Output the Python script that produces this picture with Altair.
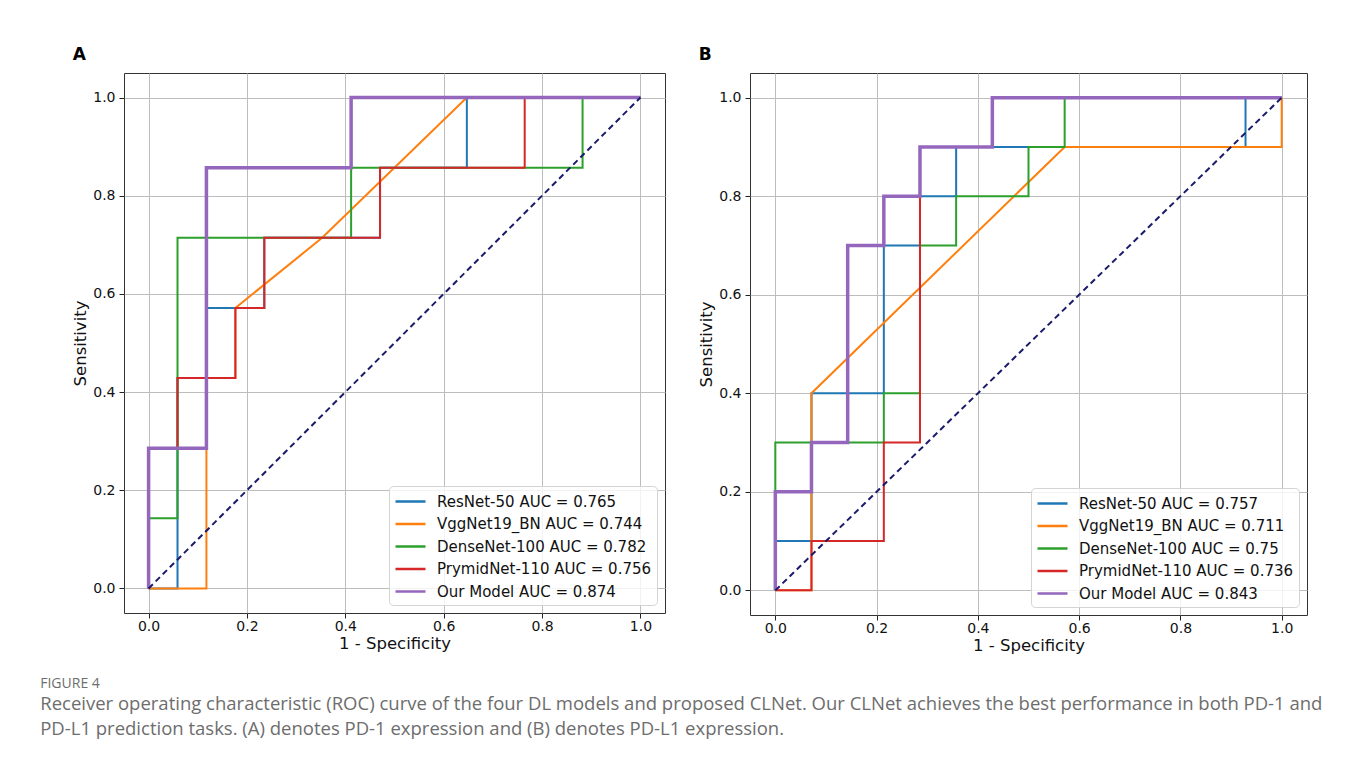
import altair as alt
import pandas as pd

# ---------------- data ----------------
models = ["ResNet-50", "VggNet19_BN", "DenseNet-100", "PrymidNet-110", "Our Model"]
auc_a = ["0.765", "0.744", "0.782", "0.756", "0.874"]
auc_b = ["0.757", "0.711", "0.75", "0.736", "0.843"]
colors = ["#1f77b4", "#ff7f0e", "#2ca02c", "#d62728", "#9467bd"]
ticks = [0.0, 0.2, 0.4, 0.6, 0.8, 1.0]

# Panel A (PD-1)
a_fpr = [
    [0, 0.0588, 0.0588, 0.1176, 0.1176, 0.2353, 0.2353, 0.4706, 0.4706, 0.6471, 0.6471, 1.0],
    [0, 0.1176, 0.1176, 0.1765, 0.1765, 0.3529, 0.6471, 1.0],
    [0, 0, 0.0588, 0.0588, 0.4118, 0.4118, 0.8824, 0.8824, 1.0],
    [0, 0, 0.0588, 0.0588, 0.1765, 0.1765, 0.2353, 0.2353, 0.4706, 0.4706, 0.7647, 0.7647, 1.0],
    [0, 0, 0.1176, 0.1176, 0.4118, 0.4118, 1.0],
]
a_tpr = [
    [0, 0, 0.4286, 0.4286, 0.5714, 0.5714, 0.7143, 0.7143, 0.8571, 0.8571, 1.0, 1.0],
    [0, 0, 0.4286, 0.4286, 0.5714, 0.7143, 1.0, 1.0],
    [0, 0.1429, 0.1429, 0.7143, 0.7143, 0.8571, 0.8571, 1.0, 1.0],
    [0, 0.2857, 0.2857, 0.4286, 0.4286, 0.5714, 0.5714, 0.7143, 0.7143, 0.8571, 0.8571, 1.0, 1.0],
    [0, 0.2857, 0.2857, 0.8571, 0.8571, 1.0, 1.0],
]

# Panel B (PD-L1)
b_fpr = [
    [0, 0, 0.0714, 0.0714, 0.2143, 0.2143, 0.2857, 0.2857, 0.3571, 0.3571, 0.9286, 0.9286, 1.0],
    [0, 0.0714, 0.0714, 0.5714, 1.0, 1.0],
    [0, 0, 0.2143, 0.2143, 0.2857, 0.2857, 0.3571, 0.3571, 0.5, 0.5, 0.5714, 0.5714, 1.0],
    [0, 0.0714, 0.0714, 0.2143, 0.2143, 0.2857, 0.2857, 0.4286, 0.4286, 1.0],
    [0, 0, 0.0714, 0.0714, 0.1429, 0.1429, 0.2143, 0.2143, 0.2857, 0.2857, 0.4286, 0.4286, 1.0],
]
b_tpr = [
    [0, 0.1, 0.1, 0.4, 0.4, 0.7, 0.7, 0.8, 0.8, 0.9, 0.9, 1.0, 1.0],
    [0, 0, 0.4, 0.9, 0.9, 1.0],
    [0, 0.3, 0.3, 0.4, 0.4, 0.7, 0.7, 0.8, 0.8, 0.9, 0.9, 1.0, 1.0],
    [0, 0, 0.1, 0.1, 0.3, 0.3, 0.9, 0.9, 1.0, 1.0],
    [0, 0.2, 0.2, 0.3, 0.3, 0.7, 0.7, 0.8, 0.8, 0.9, 0.9, 1.0, 1.0],
]

chance_x = [0.0, 1.0]
chance_y = [0.0, 1.0]

caption_head = "FIGURE 4"
caption_lines = [
    "Receiver operating characteristic (ROC) curve of the four DL models and proposed CLNet. Our CLNet achieves the best performance in both PD-1 and",
    "PD-L1 prediction tasks. (A) denotes PD-1 expression and (B) denotes PD-L1 expression.",
]

FONT = "DejaVu Sans"


def panel(letter, fprs, tprs, aucs, width, height):
    labels = [f"{m} AUC = {a}" for m, a in zip(models, aucs)]
    rows = []
    for i, lab in enumerate(labels):
        for j, (x, y) in enumerate(zip(fprs[i], tprs[i])):
            rows.append({"model": lab, "fpr": x, "tpr": y, "step": j, "ours": i == 4})
    df = pd.DataFrame(rows)

    xs = alt.Scale(domain=[-0.05, 1.05], nice=False, zero=False)
    ys = alt.Scale(domain=[-0.05, 1.05], nice=False, zero=False)
    xaxis = alt.Axis(values=ticks, format=".1f", title="1 - Specificity", labelPadding=1, titlePadding=2)
    yaxis = alt.Axis(values=ticks, format=".1f", title="Sensitivity")

    enc = dict(
        x=alt.X("fpr:Q", scale=xs, axis=xaxis),
        y=alt.Y("tpr:Q", scale=ys, axis=yaxis),
        color=alt.Color(
            "model:N",
            scale=alt.Scale(domain=labels, range=colors),
            sort=labels,
            legend=alt.Legend(title=None, orient="bottom-right"),
        ),
        order="step:Q",
    )

    base = alt.Chart(df)
    thin = base.mark_line(strokeCap="butt", strokeJoin="miter", strokeWidth=2).encode(
        **enc
    ).transform_filter("!datum.ours")
    thick = base.mark_line(strokeCap="butt", strokeJoin="miter", strokeWidth=3.5).encode(
        **enc
    ).transform_filter("datum.ours")

    diag = alt.Chart(pd.DataFrame({"fpr": chance_x, "tpr": chance_y})).mark_line(
        color="#1b1b6b", strokeWidth=2, strokeDash=[6, 4]
    ).encode(
        x=alt.X("fpr:Q", scale=xs, axis=xaxis),
        y=alt.Y("tpr:Q", scale=ys, axis=yaxis),
    )

    return alt.layer(thin, thick, diag).properties(
        width=width,
        height=height,
        title=alt.TitleParams(
            letter, anchor="start", frame="bounds", fontSize=17, fontWeight="bold",
            font=FONT, color="black", offset=9,
        ),
    )


pa = panel("A", a_fpr, a_tpr, auc_a, 541, 540)
pb = panel("B", b_fpr, b_tpr, auc_b, 557, 542)

chart = alt.hconcat(pa, pb, spacing=32).resolve_scale(
    color="independent"
).resolve_legend(color="independent").properties(
    padding={"left": 32, "top": 37, "right": 5, "bottom": 5},
    background="white",
    title=alt.TitleParams(
        caption_head,
        subtitle=caption_lines,
        orient="bottom",
        anchor="start",
        frame="bounds",
        dx=-32,
        offset=23,
        font="Open Sans",
        fontSize=14,
        fontWeight="normal",
        color="#6d6d6d",
        subtitleFont="Open Sans",
        subtitleFontSize=18.5,
        subtitleColor="#6d6d6d",
        subtitleLineHeight=25,
        subtitlePadding=4,
    ),
).configure_view(
    stroke="#333333", strokeWidth=1
).configure_axis(
    domain=False,
    grid=True,
    gridColor="#bdbdbd",
    gridWidth=1,
    tickColor="#222222",
    tickSize=5,
    labelFont=FONT,
    labelFontSize=14,
    labelColor="#111111",
    labelPadding=4,
    titleFont=FONT,
    titleFontSize=16.5,
    titleFontWeight="normal",
    titleColor="#111111",
    titlePadding=4,
).configure_legend(
    symbolType="M-1,0H2.333",
    symbolSize=324,
    symbolStrokeWidth=2.5,
    labelOffset=22,
    labelFont=FONT,
    labelFontSize=15,
    labelColor="#111111",
    labelLimit=400,
    rowPadding=3.5,
    padding=5,
    offset=8,
    strokeColor="#d4d4d4",
    fillColor="rgba(255,255,255,0.8)",
    cornerRadius=4,
)

chart.save("out.html", embed_options={"renderer": "svg", "actions": False})
